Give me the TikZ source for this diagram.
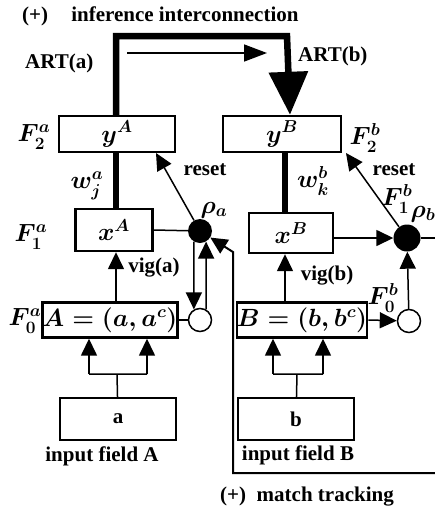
\documentclass[tikz,border=0pt]{standalone}
\usepackage{fontspec}
\setmainfont{Liberation Serif}
\usetikzlibrary{arrows.meta}

\begin{document}
\begin{tikzpicture}[x=1pt,y=-1pt,font=\fontsize{21}{24}\selectfont\bfseries\boldmath,
  lbl/.style={inner sep=0pt},
  mth/.style={inner sep=0pt,font=\fontsize{25}{28}\selectfont\boldmath},
  layer/.style={draw,line width=2.4pt,inner sep=0pt},
  code/.style={layer,font=\fontsize{24}{26}\selectfont\boldmath},
  arr/.style={line width=1.5pt,-{Triangle[width=16pt,length=17pt]}},
  wire/.style={line width=1.5pt},
  trunk/.style={line width=6.5pt}]
\useasboundingbox (0,0) rectangle (435,515);

\node[layer,mth,minimum width=116pt,minimum height=36pt] (yA) at (117,134) {$y^A$};
\node[layer,mth,minimum width=118pt,minimum height=36pt] (yB) at (282,134) {$y^B$};
\node[layer,mth,minimum width=77pt,minimum height=42pt] (xA) at (114,230) {$x^A$};
\node[layer,mth,minimum width=84pt,minimum height=40pt] (xB) at (291,233) {$x^B$};
\node[code,minimum width=125pt,minimum height=35pt] (cA) at (110,320) {$A=(a,a^c)$};
\node[code,minimum width=124pt,minimum height=35pt] (cB) at (302,320) {$B=(b,b^c)$};
\node[layer,minimum width=116pt,minimum height=42pt] (inA) at (118,419) {a};
\node[layer,minimum width=116pt,minimum height=42pt] (inB) at (296,419) {b};
\node[circle,fill,minimum size=24pt,inner sep=0pt] (rA) at (200,231) {};
\node[circle,fill,minimum size=27pt,inner sep=0pt] (rB) at (407,238) {};
\node[circle,draw,line width=1.5pt,minimum size=23pt,inner sep=0pt] (oA) at (200,320) {};
\node[circle,draw,line width=1.5pt,minimum size=23pt,inner sep=0pt] (oB) at (409,321) {};

\coordinate (axA) at (116,0);
\coordinate (axB) at (285,0);
\coordinate (infL) at (116,36);
\coordinate (infR) at (287,36);
\coordinate (artS) at (127,53);
\coordinate (artE) at (267,53);
\coordinate (rsA) at (156,153);
\coordinate (rsB) at (346,153);
\coordinate (outB) at (435,238);
\coordinate (mtR) at (435,473);
\coordinate (mtK) at (233,252);
\coordinate (sA) at (117,374);
\coordinate (sAl) at (89,374);
\coordinate (sAr) at (147,374);
\coordinate (sB) at (297,374);
\coordinate (sBl) at (273,374);
\coordinate (sBr) at (323,374);

\draw[trunk,-{Triangle[width=38pt,length=43pt]}] (yA.north -| axA) -- (infL) -- (infR) -- ([xshift=8pt]yB.north);
\draw[line width=1.5pt,-{Triangle[width=17pt,length=23pt]}] (artS) -- (artE);
\draw[trunk] (yA.south -| axA) -- (xA.north -| axA);
\draw[trunk] (yB.south -| axB) -- (xB.north -| axB);

\path[arr] (cA.north -| axA) edge (xA.south -| axA) (cB.north -| axB) edge (xB.south -| axB);
\draw[wire] (xA.east) -- (rA);
\draw[arr] (xB.east |- rB) -- (rB);
\draw[wire] (cA.east) -- (oA);
\draw[arr] (cB.east) -- (oB);
\path[arr] (rA.240) edge (oA.120) (oA.60) edge (rA.300) (oB) edge (rB);
\path[arr] (rA) edge (rsA) (rB) edge (rsB);
\draw[wire] (rB) -- (outB);
\draw[line width=2pt,-{Triangle[width=16pt,length=17pt]}] (mtR) -| (mtK) -- (rA);

\draw[wire] (inA) -- (sA) (sAl) -- (sAr) (inB) -- (sB) (sBl) -- (sBr);
\path[arr] (sAl) edge (sAl |- cA.south) (sAr) edge (sAr |- cA.south);
\path[arr] (sBl) edge (sBl |- cB.south) (sBr) edge (sBr |- cB.south);

\node[lbl,anchor=west] (hdInf) at (22,16) {(+)\hspace{1.1em}inference interconnection};
\node[lbl,anchor=west] (artA) at (25,63) {ART(a)};
\node[lbl,anchor=west] (artB) at (298,56) {ART(b)};
\node[mth] (F2a) at (34,137) {$F_2^a$};
\node[mth] (F2b) at (365,138) {$F_2^b$};
\node[mth] (wA) at (87,186) {$w_j^a$};
\node[mth] (wB) at (313,181) {$w_k^b$};
\node[lbl] (rstA) at (205,170) {reset};
\node[lbl] (rstB) at (394,170) {reset};
\node[mth] (rhoA) at (214,210) {$\rho_a$};
\node[mth] (F1a) at (31,237) {$F_1^a$};
\node[mth] (F1b) at (397,199) {$F_1^b$};
\node[mth] (rhoB) at (423,214) {$\rho_b$};
\node[lbl] (vigA) at (154,268) {vig(a)};
\node[lbl] (vigB) at (327,276) {vig(b)};
\node[mth] (F0a) at (25,321) {$F_0^a$};
\node[mth] (F0b) at (383,298) {$F_0^b$};
\node[lbl] (fieldA) at (102,456) {input field A};
\node[lbl] (fieldB) at (298,455) {input field B};
\node[lbl] (hdMt) at (307,497) {(+)\hspace{0.5em}match tracking};
\end{tikzpicture}
\end{document}
